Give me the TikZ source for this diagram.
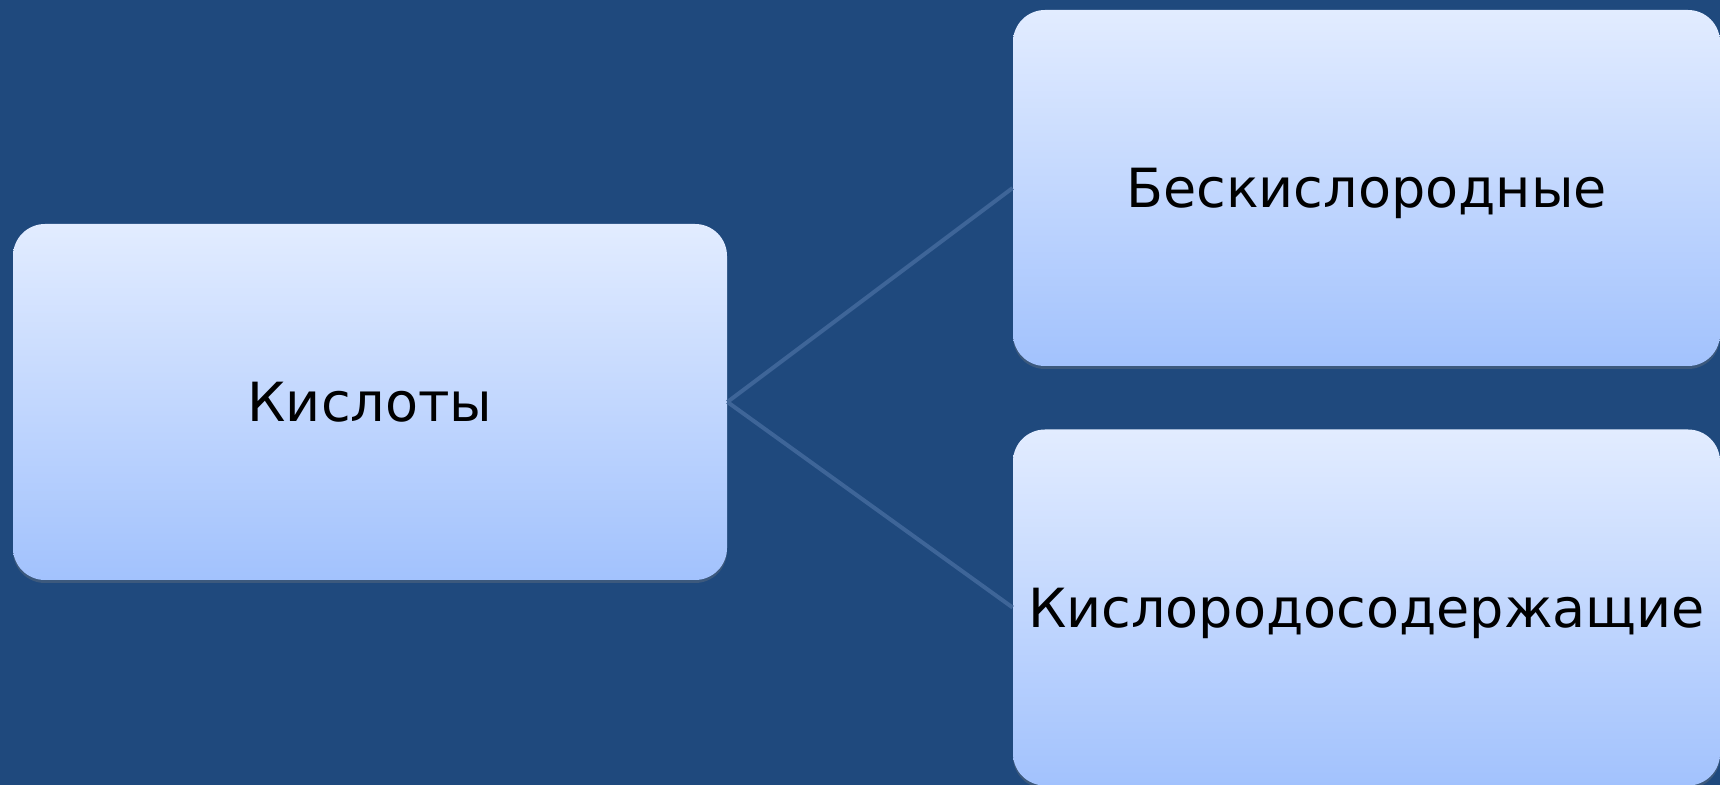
\documentclass[tikz,border=0pt]{standalone}
\usepackage{fontspec}
\setmainfont{DejaVu Sans}
\usetikzlibrary{shadows}
\definecolor{bgblue}{HTML}{1F497D}
\definecolor{linkblue}{HTML}{3E6598}
\definecolor{boxtop}{HTML}{E2ECFF}
\definecolor{boxbot}{HTML}{A2C2FD}
\tikzset{
	box/.style={rounded corners=16pt, top color=boxtop, bottom color=boxbot,
		draw=none, inner sep=0pt, font=\fontsize{27}{32}\selectfont, text=black,
		text depth=0pt,
		drop shadow={opacity=0.3, shadow xshift=0pt, shadow yshift=-1.5pt}},
	link/.style={draw=linkblue, line width=2pt}
}
\begin{document}
\begin{tikzpicture}[x=0.5pt,y=-0.5pt]
	\fill[bgblue] (0,0) rectangle (1720,785);
	\useasboundingbox (0,0) rectangle (1720,785);
	% main box and the two kinds
	\node[box, minimum width=357pt, minimum height=178pt] (kisl) at (370,402) {Кислоты};
	\node[box, minimum width=353.5pt, minimum height=178pt] (besk) at (1366.5,188) {Бескислородные};
	\node[box, minimum width=353.5pt, minimum height=178pt] (kislsod) at (1366.5,607.5) {Кислородосодержащие};
	\draw[link] (kisl.east) -- (besk.west);
	\draw[link] (kisl.east) -- (kislsod.west);
\end{tikzpicture}
\end{document}
